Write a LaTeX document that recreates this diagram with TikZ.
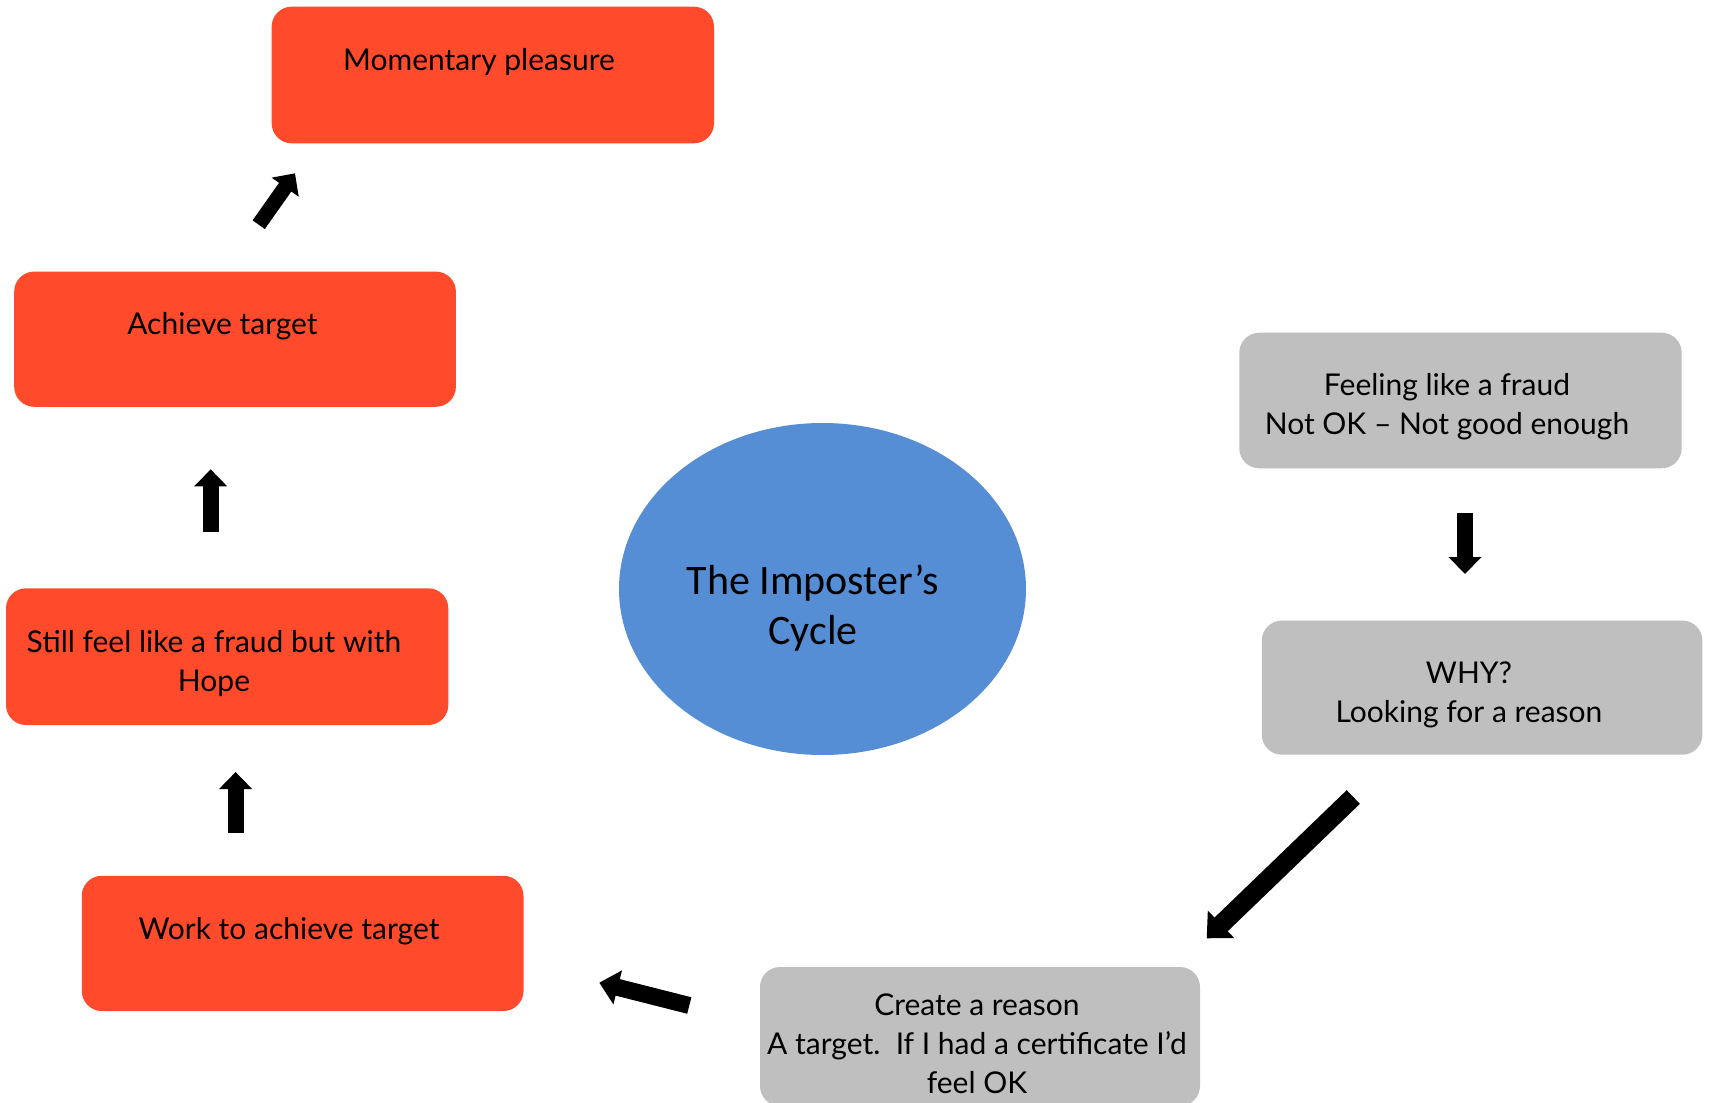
\documentclass[tikz,border=0pt]{standalone}
\usepackage{fontspec}
\setmainfont{Lato}
\newfontfamily\cyclefont{Carlito}
\usetikzlibrary{arrows.meta,shapes.geometric}

\definecolor{stepred}{HTML}{FF4B2B}
\definecolor{stepgray}{HTML}{BFBFBF}
\definecolor{hubblue}{HTML}{558ED5}

% multi-line text nodes are placed by the baseline of their last line
\tikzset{
  redbox/.style={draw=none, fill=stepred, rounded corners=10pt},
  graybox/.style={draw=none, fill=stepgray, rounded corners=10pt},
  boxtext/.style={inner sep=0pt, anchor=base, align=center,
    font=\fontsize{15}{19.5}\selectfont},
  blockarrow/.style={line width=#1, -{Triangle[length=8.5pt,width=16pt]}},
  blockarrow/.default=8pt
}

\begin{document}
\begin{tikzpicture}[x=0.5pt, y=-0.5pt]
  \useasboundingbox (0,0) rectangle (1710,1103);

  % red boxes: the hopeful half of the cycle
  \path[redbox] (271.7,6.7) rectangle (714,143.3);
  \node[boxtext] (mp) at (479,70) {Momentary pleasure};

  \path[redbox] (14.2,271.6) rectangle (455.9,406.8);
  \node[boxtext] (at) at (222.5,334.6) {Achieve target};

  \path[redbox] (6,588.3) rectangle (448.3,725);
  \node[boxtext] (sf) at (214,691) {Still feel like a fraud but with\\Hope};

  \path[redbox] (81.8,875.8) rectangle (523.5,1011);
  \node[boxtext] (wk) at (289,939.5) {Work to achieve target};

  % gray boxes: the doubting half
  \path[graybox] (1239.3,332.7) rectangle (1681.7,468.3);
  \node[boxtext] (ff) at (1447,434.5) {Feeling like a fraud\\Not OK -- Not good enough};

  \path[graybox] (1261.8,620.6) rectangle (1702.4,754.7);
  \node[boxtext] (why) at (1469,722) {WHY?\\Looking for a reason};

  \path[graybox] (760,967) rectangle (1200,1106);
  \node[boxtext] (cr) at (977,1093) {Create a reason\\A target.\ \ If I had a certificate I’d\\feel OK};

  % centre ellipse
  \node[ellipse, fill=hubblue, minimum width=407pt*0.5, minimum height=332pt*0.5,
        inner sep=0pt] (hub) at (822.5,589) {};
  \node[inner sep=0pt, anchor=base, align=center,
        font=\cyclefont\fontsize{21}{25}\selectfont] (hubtext) at (813,644)
        {The Imposter’s\\Cycle};

  % block arrows between the steps
  \coordinate (a1s) at (258.7,224.7);  \coordinate (a1e) at (295,173.3);
  \coordinate (a2s) at (210.7,531.7);  \coordinate (a2e) at (210.7,469.3);
  \coordinate (a3s) at (235.6,833);    \coordinate (a3e) at (235.6,772);
  \coordinate (a4s) at (1465,512.7);   \coordinate (a4e) at (1465,574);
  \coordinate (a5s) at (1353.3,797);   \coordinate (a5e) at (1206.7,938.3);
  \coordinate (a6s) at (689.3,1005.5); \coordinate (a6e) at (599.3,982.7);

  \draw[blockarrow=7.5pt] (a1s) -- (a1e);
  \draw[blockarrow] (a2s) -- (a2e);
  \draw[blockarrow] (a3s) -- (a3e);
  \draw[blockarrow] (a4s) -- (a4e);
  \draw[line width=9.5pt, -{Triangle[length=10pt,width=18.5pt]}] (a5s) -- (a5e);
  \draw[line width=8.5pt, -{Triangle[length=9.5pt,width=17pt]}] (a6s) -- (a6e);
\end{tikzpicture}
\end{document}
